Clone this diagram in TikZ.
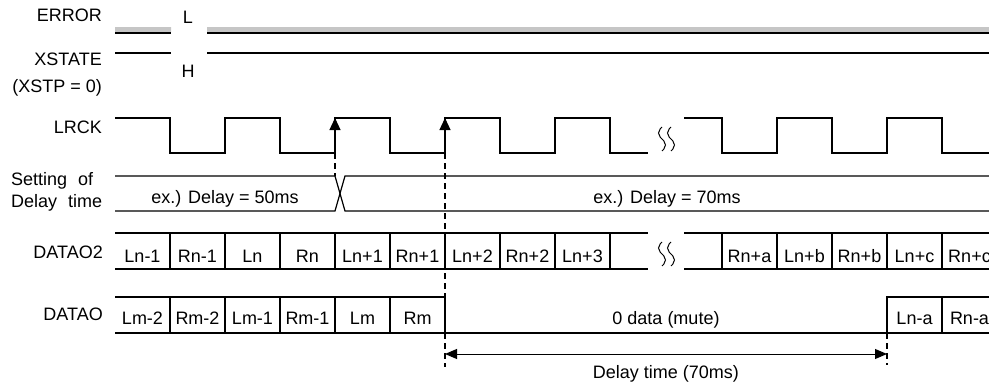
\documentclass[tikz,border=0pt]{standalone}
\usepackage{fontspec}
\setmainfont{Liberation Sans}
\usetikzlibrary{arrows.meta}

\begin{document}
\begin{tikzpicture}[x=1pt, y=-1pt, every node/.style={inner sep=0pt, font=\fontsize{18}{21}\selectfont}]
    \tikzstyle{wave} = [line width=1.2pt]
    \tikzstyle{guide} = [line width=1.2pt, dash pattern=on 6pt off 4pt]
    \tikzstyle{edge} = [line width=1.2pt, -{Triangle[length=12pt, width=11pt]}]
    \tikzstyle{span} = [line width=1pt, {Triangle[length=12pt, width=10pt]}-{Triangle[length=12pt, width=10pt]}]
    \tikzstyle{signal} = [anchor=base east]
    \tikzstyle{slot} = [anchor=base]
    \tikzset{brk/.pic={
        \draw[line width=1pt] (0,0) cos (-3.5,6) sin (0,12) cos (3.5,18) sin (0,24);
        \draw[line width=1pt] (9,0) cos (5.5,6) sin (9,12) cos (12.5,18) sin (9,24);}}
    \clip (0,0) rectangle (989,383);
    % Signal names
    \node (error) [signal] at (102,21) {ERROR};
    \node (xstate) [signal] at (102,65) {XSTATE};
    \node (xstp) [signal] at (102,92) {(XSTP = 0)};
    \node (lrck) [signal] at (102,133) {LRCK};
    \node (setting) [anchor=base west] at (11,185) {Setting\hspace{6pt} of};
    \node (delaytime) [anchor=base west] at (11,207) {Delay\hspace{6pt} time};
    \node (datao2) [signal] at (103,258) {DATAO2};
    \node (datao) [signal] at (103,320) {DATAO};
    \node (levell) at (188,17.5) {L};
    \node (levelh) at (188,71) {H};
    % ERROR and XSTATE
    \fill[gray!45] (115,27) rectangle (171,32.3) (207,27) rectangle (989,32.3);
    \draw[line width=1.5pt] (115,33) -- (171,33) (207,33) -- (989,33);
    \draw[wave] (115,53) -- (171,53) (207,53) -- (989,53);
    % LRCK
    \draw[wave] (115,118) -- (170,118) -- (170,153) -- (225,153) -- (225,118) -- (280,118) -- (280,153) -- (335,153) -- (335,118) -- (390,118) -- (390,153) -- (445,153) -- (445,118) -- (500,118) -- (500,153) -- (555,153) -- (555,118) -- (610,118) -- (610,153) -- (648,153);
    \draw[wave] (684,118) -- (722,118) -- (722,153) -- (777,153) -- (777,118) -- (832,118) -- (832,153) -- (887,153) -- (887,118) -- (942,118) -- (942,153) -- (989,153);
    \pic at (662,127) {brk};
    \coordinate (rise1low) at (335,153);
    \coordinate (rise1high) at (335,118);
    \coordinate (rise2low) at (445,153);
    \coordinate (rise2high) at (445,118);
    \draw[edge] (rise1low) -- (rise1high);
    \draw[edge] (rise2low) -- (rise2high);
    % Setting of delay time
    \draw[wave] (115,176) -- (335,176) -- (345,211) -- (989,211);
    \draw[wave] (115,211) -- (335,211) -- (345,176) -- (989,176);
    \node (delay50) [slot] at (225,203) {ex.) Delay = 50ms};
    \node (delay70) [slot] at (667,203) {ex.) Delay = 70ms};
    % DATAO2
    \draw[wave] (115,233) -- (648,233) (115,269) -- (648,269) (684,233) -- (989,233) (684,269) -- (989,269);
    \foreach \x in {170,225,...,610} \draw[wave] (\x,233) -- (\x,269);
    \foreach \x in {722,777,...,942} \draw[wave] (\x,233) -- (\x,269);
    \pic at (662,242) {brk};
    \foreach \x/\t [count=\i] in {142.5/Ln-1, 197.5/Rn-1, 252.5/Ln, 307.5/Rn, 362.5/Ln+1, 417.5/Rn+1, 472.5/Ln+2, 527.5/Rn+2, 582.5/Ln+3, 749.5/Rn+a, 804.5/Ln+b, 859.5/Rn+b, 914.5/Ln+c, 969.5/Rn+c}
        \node (dtwo\i) [slot] at (\x,262.5) {\t};
    % DATAO
    \draw[wave] (115,297) -- (445,297) -- (445,333) (115,333) -- (989,333) (887,333) -- (887,297) -- (989,297);
    \foreach \x in {170,225,...,390} \draw[wave] (\x,297) -- (\x,333);
    \draw[wave] (942,297) -- (942,333);
    \foreach \x/\t [count=\i] in {142.5/Lm-2, 197.5/Rm-2, 252.5/Lm-1, 307.5/Rm-1, 362.5/Lm, 417.5/Rm, 914.5/Ln-a, 969.5/Rn-a}
        \node (done\i) [slot] at (\x,324) {\t};
    \node (mute) [slot] at (666,324) {0 data (mute)};
    % Delay time
    \coordinate (mutestart) at (445,354);
    \coordinate (muteend) at (887,354);
    \draw[guide] (rise1low) -- (335,176);
    \draw[guide] (rise2low) -- (445,367);
    \draw[guide] (887,333) -- (887,365);
    \draw[span] (mutestart) -- (muteend);
    \node (delaylabel) [slot] at (666,378) {Delay time (70ms)};
\end{tikzpicture}
\end{document}
